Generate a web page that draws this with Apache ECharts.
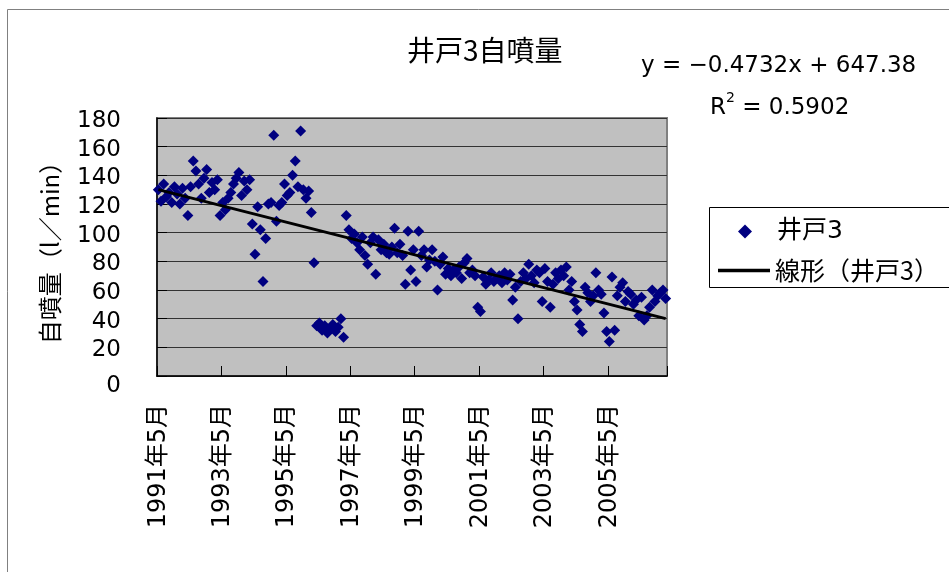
<!DOCTYPE html>
<html>
<head>
<meta charset="utf-8">
<script src="https://cdn.jsdelivr.net/npm/echarts@6/dist/echarts.min.js"></script>
<style>
  html, body { margin: 0; padding: 0; background: #fff; }
  #chart { width: 949px; height: 572px; }
</style>
</head>
<body>
<div id="chart"></div>
<script>
// months from 1991年5月, one value per month
const startYear = 1991
const startMonth = 5
const monthCount = 190

const wellValues = [
  130, 122, 134, 125, 128, 121, 132, 127, 120, 131,
  124, 112, 132, 150, 143, 134, 124, 138, 144, 128,
  135, 130, 137, 112, 121, 116, 124, 128, 134, 138,
  142, 126, 136, 130, 137, 106, 85, 118, 102, 66,
  96, 120, 121, 168, 108, 119, 121, 134, 126, 128,
  140, 150, 132, 171, 130, 124, 129, 114, 79, 35,
  37, 32, 35, 30, 33, 36, 31, 34, 40, 27,
  112, 102, 96, 99, 93, 88, 97, 84, 78, 93,
  97, 71, 95, 88, 92, 86, 85, 90, 103, 86,
  92, 84, 64, 101, 74, 88, 66, 101, 84, 88,
  76, 81, 88, 80, 60, 78, 83, 71, 75, 70,
  74, 72, 76, 68, 79, 82, 72, 74, 70, 48,
  45, 69, 64, 67, 72, 66, 68, 70, 65, 72,
  67, 71, 53, 62, 40, 66, 72, 68, 78, 70,
  65, 74, 72, 52, 75, 66, 48, 64, 72, 68,
  74, 70, 76, 60, 66, 52, 46, 36, 31, 62,
  58, 52, 56, 72, 60, 57, 44, 31, 24, 69,
  32, 56, 62, 65, 52, 59, 57, 50, 53, 42,
  55, 39, 42, 48, 60, 52, 56, 58, 60, 54
]

// trend line ends, read at first and last month
const trendValues = [130, 40]

const seriesName = '井戸3'
const trendName = '線形（井戸3）'

// build month labels
const categories = []
for (let i = 0; i < monthCount; i++) {
  const m = startMonth - 1 + i
  categories.push(`${startYear + Math.floor(m / 12)}年${(m % 12) + 1}月`)
}

const latin = '"DejaVu Sans", "Noto Sans CJK JP", sans-serif'
const cjk = '"Noto Sans CJK JP", "DejaVu Sans", sans-serif'

const chart = echarts.init(document.getElementById('chart'))

const option = {
  backgroundColor: '#fff',
  animation: false,
  title: [
    {
      text: '井戸3自噴量',
      left: 402,
      top: 31,
      textStyle: { fontFamily: cjk, fontSize: 28, fontWeight: 'normal', color: '#000' },
    },
    {
      text: 'y = −0.4732x + 647.38',
      left: 636,
      top: 50,
      textStyle: { fontFamily: latin, fontSize: 23, fontWeight: 'normal', color: '#000' },
    },
    {
      text: '{r|R}{sup|2}{r| = 0.5902}',
      left: 705,
      top: 86,
      textStyle: {
        fontWeight: 'normal',
        rich: {
          r: { fontFamily: latin, fontSize: 23, fontWeight: 'normal', color: '#000', padding: [6, 0, 0, 0] },
          sup: { fontFamily: latin, fontSize: 14, fontWeight: 'normal', color: '#000', verticalAlign: 'top' },
        },
      },
    },
  ],
  graphic: [
    {
      type: 'rect',
      shape: { x: 7.5, y: 9.5, width: 1000, height: 1000 },
      style: { fill: 'none', stroke: '#808080', lineWidth: 1 },
      silent: true,
    },
    {
      type: 'rect',
      shape: { x: 709.5, y: 207.5, width: 300, height: 80 },
      style: { fill: '#fff', stroke: '#000', lineWidth: 1 },
      silent: true,
      z: -1,
    },
  ],
  legend: [
    {
      data: [{ name: seriesName, icon: 'diamond' }],
      left: 738,
      top: 219,
      padding: 0,
      itemWidth: 14,
      itemHeight: 14,
      selectedMode: false,
      textStyle: { fontFamily: latin, fontSize: 25, color: '#000', padding: [0, 0, 0, 20] },
    },
    {
      data: [{ name: trendName, icon: 'rect' }],
      left: 718,
      top: 258,
      padding: 0,
      itemWidth: 52,
      itemHeight: 3.5,
      selectedMode: false,
      textStyle: { fontFamily: cjk, fontSize: 25, color: '#000' },
    },
  ],
  grid: {
    left: 157,
    top: 118,
    right: 282,
    bottom: 196,
    show: true,
    backgroundColor: '#c0c0c0',
    borderColor: '#808080',
    borderWidth: 2,
  },
  xAxis: {
    type: 'category',
    data: categories,
    boundaryGap: true,
    axisLine: { show: true, lineStyle: { color: '#000', width: 1.5 } },
    axisTick: { show: true, interval: 23, inside: true, length: 10, lineStyle: { color: '#000' } },
    axisLabel: {
      interval: 23,
      rotate: 90,
      margin: 28,
      fontFamily: latin,
      fontSize: 24,
      color: '#000',
    },
    splitLine: { show: false },
  },
  yAxis: {
    type: 'value',
    min: 0,
    max: 180,
    interval: 20,
    name: '自噴量（l／min）',
    nameLocation: 'middle',
    nameRotate: 90,
    nameGap: 95,
    nameTextStyle: { fontFamily: cjk, fontSize: 24, color: '#000' },
    axisLine: { show: true, lineStyle: { color: '#000', width: 1.5 } },
    axisTick: { show: true, inside: true, length: 10, lineStyle: { color: '#000' } },
    axisLabel: {
      margin: 36,
      fontFamily: latin,
      fontSize: 23,
      color: '#000',
      padding: [6, 0, 0, 0],
      formatter: (v) => (v === 0 ? '{z|0}' : String(v)),
      rich: { z: { fontFamily: latin, fontSize: 23, color: '#000', padding: [14, 0, 0, 0] } },
    },
    splitLine: { show: true, lineStyle: { color: '#333', width: 1 } },
  },
  series: [
    {
      name: seriesName,
      type: 'scatter',
      data: wellValues,
      symbol: 'diamond',
      symbolSize: 11,
      itemStyle: { color: '#000080', opacity: 1 },
      z: 2,
    },
    {
      name: trendName,
      type: 'line',
      data: [
        [categories[0], trendValues[0]],
        [categories[categories.length - 1], trendValues[1]],
      ],
      symbol: 'none',
      lineStyle: { color: '#000', width: 3 },
      itemStyle: { color: '#000' },
      z: 3,
    },
  ],
}

chart.setOption(option)
</script>
</body>
</html>
